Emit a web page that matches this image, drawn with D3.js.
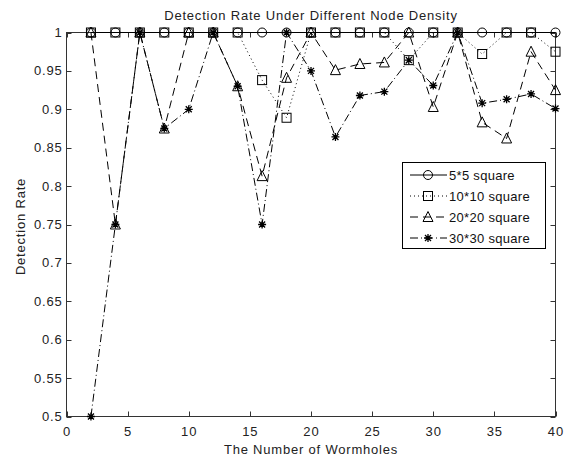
<!DOCTYPE html>
<html><head><meta charset="utf-8">
<script src="https://cdn.jsdelivr.net/npm/d3@7/dist/d3.min.js"></script>
<style>body{margin:0;background:#fff}svg{display:block;font-family:"Liberation Sans",Arial,sans-serif}</style>
</head><body><svg id="c" width="566" height="460"></svg>
<script>
const xs = [2,4,6,8,10,12,14,16,18,20,22,24,26,28,30,32,34,36,38,40];
const s5 = [1,1,1,1,1,1,1,1,1,1,1,1,1,1,1,1,1,1,1,1];
const s10 = [1,1,1,1,1,1,1,0.938,0.889,1,1,1,1,0.964,1,1,0.972,1,1,0.975];
const s20 = [1,0.75,1,0.875,1,1,0.93,0.813,0.941,1,0.951,0.959,0.961,1,0.903,1,0.883,0.862,0.975,0.925];
const s30 = [0.5,0.75,1,0.875,0.9,1,0.93,0.75,1,0.95,0.864,0.918,0.923,0.964,0.931,1,0.908,0.913,0.92,0.901];
const seriesNames = ["5*5 square","10*10 square","20*20 square","30*30 square"];
const xTicks = [0,5,10,15,20,25,30,35,40];
const yTicks = [0.5,0.55,0.6,0.65,0.7,0.75,0.8,0.85,0.9,0.95,1];

const svg = d3.select("#c");
const L=66.5,R=555.5,T=32.5,B=416.5;
const x = d3.scaleLinear().domain([0,40]).range([L,R]);
const y = d3.scaleLinear().domain([0.5,1]).range([B,T]);
const ax = "#333";
const txt = "#222";

svg.append("rect").attr("x",L).attr("y",T).attr("width",R-L).attr("height",B-T).attr("fill","none").attr("stroke",ax);
const g = svg.append("g").attr("stroke",ax);
xTicks.forEach(t=>{const px=Math.round(x(t))+0.5;
  g.append("line").attr("x1",px).attr("x2",px).attr("y1",B).attr("y2",B-5);
  g.append("line").attr("x1",px).attr("x2",px).attr("y1",T).attr("y2",T+5);});
yTicks.forEach(t=>{const py=Math.round(y(t))+0.5;
  g.append("line").attr("x1",L).attr("x2",L+5).attr("y1",py).attr("y2",py);
  g.append("line").attr("x1",R).attr("x2",R-5).attr("y1",py).attr("y2",py);});
const tl = svg.append("g").attr("font-size",13).attr("letter-spacing",0.8).attr("fill",txt);
xTicks.forEach(t=>tl.append("text").attr("x",x(t)+0.4).attr("y",B+19).attr("text-anchor","middle").text(t));
yTicks.forEach(t=>tl.append("text").attr("x",L-4).attr("y",y(t)+4.5).attr("text-anchor","end").text(t));
svg.append("text").attr("x",(L+R)/2).attr("y",454).attr("text-anchor","middle").attr("font-size",13).attr("letter-spacing",0.8).attr("fill",txt).text("The Number of Wormholes");
svg.append("text").attr("transform",`translate(25,${(T+B)/2+2}) rotate(-90)`).attr("text-anchor","middle").attr("font-size",13).attr("letter-spacing",0.8).attr("fill",txt).text("Detection Rate");
svg.append("text").attr("x",(L+R)/2).attr("y",20).attr("text-anchor","middle").attr("font-size",13).attr("letter-spacing",0.8).attr("fill",txt).text("Detection Rate Under Different Node Density");

const dashes = [null,"1,3","8,5","8,3,1,3"];
const data = [s5,s10,s20,s30];
function marker(sel, k, cx, cy){
  const m = sel.append("g").attr("transform",`translate(${cx},${cy})`).attr("fill","none").attr("stroke","#000").attr("stroke-width",1);
  if(k===0) m.append("circle").attr("r",4.5);
  if(k===1) m.append("rect").attr("x",-4.5).attr("y",-4.5).attr("width",9).attr("height",9);
  if(k===2) m.append("path").attr("d","M0,-5.5L5,4.5L-5,4.5Z");
  if(k===3){ m.append("path").attr("d","M-4,0H4M0,-4V4M-3,-3L3,3M-3,3L3,-3").attr("stroke-width",1.3); }
}
const line = d3.line().x(d=>x(d[0])).y(d=>y(d[1]));
data.forEach((s,k)=>{
  const pts = xs.map((v,i)=>[v,s[i]]);
  svg.append("path").attr("d",line(pts)).attr("fill","none").attr("stroke","#000").attr("stroke-width",1)
    .attr("stroke-dasharray",dashes[k]);
  pts.forEach(p=>marker(svg,k,x(p[0]),y(p[1])));
});
const lg = svg.append("g");
lg.append("rect").attr("x",402.5).attr("y",162.5).attr("width",143).attr("height",86).attr("fill","#fff").attr("stroke","#000");
seriesNames.forEach((n,k)=>{
  const yy = 175+ k*21;
  lg.append("line").attr("x1",410).attr("x2",447).attr("y1",yy).attr("y2",yy).attr("stroke","#000").attr("stroke-dasharray",dashes[k]);
  marker(lg,k,428,yy);
  lg.append("text").attr("x",449).attr("y",yy+5).attr("font-size",13).attr("letter-spacing",0.3).attr("fill","#111").text(n);
});
</script></body></html>
